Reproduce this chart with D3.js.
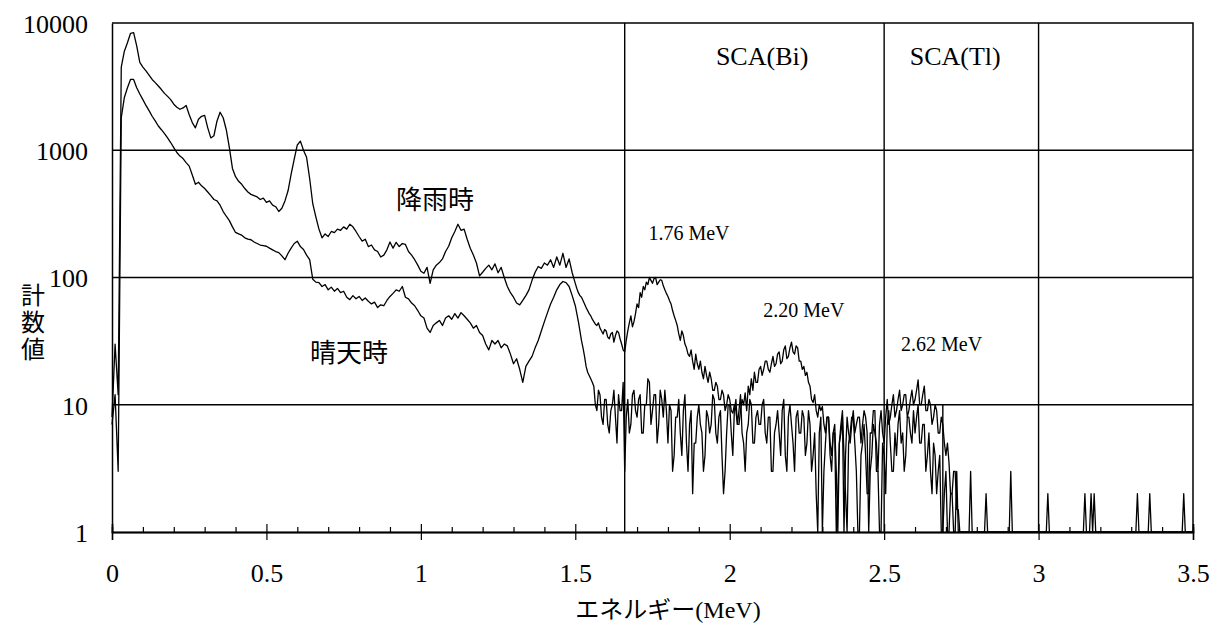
<!DOCTYPE html>
<html>
<head>
<meta charset="utf-8">
<script src="https://cdn.jsdelivr.net/npm/d3@7"></script>
<style>
  html, body { margin: 0; padding: 0; background: #fff; }
  svg { display: block; }
</style>
</head>
<body>
<svg id="chart" width="1218" height="634"></svg>
<script>
// Gamma-ray spectra. Below 1.5 MeV the counts are binned in 0.01 MeV channels,
// from 1.5 MeV upward in 0.005 MeV channels.
const lowStart = 0, lowStep = 0.01;
const highStart = 1.5, highStep = 0.005;

// 降雨時 (rain), 0 – 1.49 MeV
const rainLow = [
  8, 30, 12, 4500, 6000, 7000, 8300, 8400, 6600, 4900,
  4500, 4200, 3900, 3600, 3400, 3200, 3000, 2800, 2650, 2500,
  2300, 2180, 2100, 2150, 2250, 1900, 1650, 1500, 1750, 1850,
  1880, 1500, 1250, 1300, 1700, 1990, 1800, 1450, 1050, 720,
  620, 570, 540, 500, 470, 450, 440, 430, 410, 420,
  390, 400, 370, 360, 330, 350, 400, 480, 650, 850,
  1100, 1180, 1000, 880, 600, 380, 300, 240, 205, 220,
  210, 230, 225, 240, 235, 250, 240, 262, 250, 230,
  210, 193, 200, 175, 180, 165, 160, 145, 150, 165,
  190, 170, 189, 175, 185, 182, 160, 150, 138, 125,
  112, 108, 120, 90, 115, 125, 131, 140, 160, 176,
  205, 230, 262, 235, 240, 200, 170, 150, 130, 103,
  110, 118, 125, 115, 128, 109, 120, 100, 85, 76,
  70, 63, 61, 66, 72, 80, 95, 110, 122, 118,
  130, 125, 138, 120, 145, 125, 155, 120, 140, 109
];
// 降雨時 (rain), 1.5 – 3.5 MeV
const rainHigh = [
  90, 82, 76, 72, 70, 66, 62, 58, 55, 52, 50, 47, 45, 43, 42, 44, 40, 38, 36, 39,
  38, 34, 33, 36, 37, 31, 35, 38, 37, 33, 30, 27, 26, 32, 38, 44, 50, 41, 45, 52,
  62, 58, 76, 70, 85, 80, 92, 88, 100, 95, 90, 98, 100, 88, 92, 96, 95, 86, 80, 75,
  71, 66, 62, 55, 50, 46, 42, 36, 32, 38, 35, 30, 28, 25, 24, 27, 22, 19, 25, 21,
  19, 22, 18, 16, 20, 17, 15, 18, 16, 13, 13, 15, 14, 11, 11, 13, 12, 9, 10, 12,
  11, 9, 8.6, 10, 9, 7, 7, 9, 11, 10, 12.4, 9, 14, 12, 16, 13, 18, 15, 15, 19,
  20, 17, 19, 22, 22, 19, 18, 21, 24, 20, 21, 25, 26, 21, 22, 27, 29, 23, 24, 28,
  31, 26, 25, 29, 28, 22, 22, 19, 20, 17, 18, 15, 14, 11, 10.4, 12, 9, 8, 10, 9,
  9.7, 7, 6, 8, 8, 5, 4, 6, 7, 3, 1, 5, 6, 8, 1, 4, 8, 6, 5, 7,
  9, 6, 7, 8, 8, 5, 7, 9, 8, 6, 1, 3, 4, 7, 6, 5, 3, 7, 9, 6,
  5, 8, 11, 7, 8, 10, 12, 8, 9, 11, 13, 9, 10, 12, 12, 8, 9, 11, 13, 10,
  11, 13, 15.7, 10, 10, 12, 14, 9, 9, 11, 10, 7, 8, 10, 9, 6, 6, 8, 7, 5,
  4, 5, 3.5, 2, 2, 3, 3, 1.5, 1.5, 1, 1, 1, 1, 1, 1, 1, 1, 1, 1, 1,
  1, 1, 1, 1, 1, 1, 1, 1, 1, 1, 1, 1, 1, 1, 1, 1, 1, 1, 1, 1,
  1, 1, 1, 1, 1, 1, 1, 1, 1, 1, 1, 1, 1, 1, 1, 1, 1, 1, 1, 1,
  1, 1, 1, 1, 1, 1, 1, 1, 1, 1, 1, 1, 1, 1, 1, 1, 1, 1, 1, 1,
  1, 1, 1, 1, 1, 1, 1, 1, 1, 1, 1, 1, 1, 1, 1, 1, 1, 1, 1, 1,
  1, 1, 1, 1, 1, 1, 1, 1, 1, 1, 1, 1, 1, 1, 1, 1, 1, 1, 1, 1,
  1, 1, 1, 1, 1, 1, 1, 1, 1, 1, 1, 1, 1, 1, 1, 1, 1, 1, 1, 1,
  1, 1, 1, 1, 1, 1, 1, 1, 1, 1, 1, 1, 1, 1, 1, 1, 1, 1, 1, 1,
  1
];

// 晴天時 (clear sky), 0 – 1.49 MeV
const clearLow = [
  7, 12, 3, 1800, 2600, 3100, 3600, 3600, 3100, 2770,
  2500, 2250, 2050, 1850, 1700, 1550, 1450, 1350, 1250, 1150,
  1050, 960, 900, 860, 800, 750, 640, 540, 560, 525,
  500, 470, 440, 410, 400, 370, 330, 303, 280, 250,
  226, 220, 215, 205, 200, 198, 190, 185, 180, 178,
  176, 170, 165, 160, 157, 148, 138, 155, 170, 185,
  193, 175, 166, 150, 138, 97, 92, 91, 85, 88,
  80, 84, 78, 82, 76, 78, 70, 67, 72, 68,
  71, 66, 69, 65, 62, 64, 58, 61, 60, 66,
  71, 75, 80, 78, 85, 70, 68, 63, 60, 55,
  50, 48, 40, 37, 42, 44, 46, 42, 48, 50,
  47, 52, 48, 53, 50, 47, 44, 40, 42, 37,
  35, 30, 27, 32, 30, 32, 28, 30, 29, 25,
  21, 23, 19, 15, 20, 22, 24, 28, 32, 38,
  45, 53, 62, 70, 80, 88, 93, 91, 85, 72
];
// 晴天時 (clear sky), 1.5 – 3.5 MeV
const clearHigh = [
  60, 52, 45, 38, 32, 28, 24, 20, 18, 17, 16, 15, 14, 10, 9, 13, 12, 8, 7, 11,
  11, 7, 6, 9, 10, 13, 8, 5, 12, 9, 9, 15, 3, 8, 11, 6, 7, 12, 13, 9,
  8, 11, 12, 6, 6, 10, 10, 16, 15, 7, 9, 12, 12, 5, 7, 13, 11, 8, 13, 9,
  5, 10, 9, 3, 4, 8, 8, 11, 6, 4, 9, 12, 5, 3, 7, 9, 2, 5, 5, 8,
  10, 7, 6, 3, 4, 9, 8, 6, 7, 12, 11, 6, 5, 8, 9, 4, 2, 3, 6, 10,
  10, 6, 4, 9, 11, 7, 9, 12, 6, 5, 3, 6, 7, 11, 10, 5, 5, 8, 9, 7,
  7, 10, 11, 6, 5, 8, 8, 3, 3, 6, 7, 9, 6, 4, 9, 11, 4, 3, 8, 10,
  7, 5, 3, 8, 9, 6, 6, 9, 8, 4, 5, 9, 7, 3, 4, 6, 2, 1, 6, 8,
  1, 3, 5, 8, 8, 4, 3, 6, 6, 1, 2, 5, 7, 9, 4, 2, 1, 5, 6, 8,
  8, 5, 3, 1, 1, 4, 5, 7, 4, 2, 2, 6, 6, 9, 9, 3, 3, 1, 1, 5,
  4, 2, 7, 9, 5, 3, 3, 6, 4, 7, 9, 5, 6, 3, 4, 8, 8, 6, 5, 9,
  6, 8, 10, 5, 5, 7, 7, 3, 4, 6, 3, 2, 5, 4, 2, 3, 4, 1, 1, 2,
  3, 1, 1, 2, 2, 1, 1, 3, 1, 1, 1, 1, 1, 1, 1, 1, 3, 1, 1, 1,
  1, 1, 1, 1, 1, 1, 2, 1, 1, 1, 1, 1, 1, 1, 1, 1, 1, 1, 1, 1,
  1, 1, 3, 1, 1, 1, 1, 1, 1, 1, 1, 1, 1, 1, 1, 1, 1, 1, 1, 1,
  1, 1, 1, 1, 1, 1, 2, 1, 1, 1, 1, 1, 1, 1, 1, 1, 1, 1, 1, 1,
  1, 1, 1, 1, 1, 1, 1, 1, 1, 1, 2, 1, 1, 1, 2, 1, 2, 1, 1, 1,
  1, 1, 1, 1, 1, 1, 1, 1, 1, 1, 1, 1, 1, 1, 1, 1, 1, 1, 1, 1,
  1, 1, 1, 1, 2, 1, 1, 1, 1, 1, 1, 1, 2, 1, 1, 1, 1, 1, 1, 1,
  1, 1, 1, 1, 1, 1, 1, 1, 1, 1, 1, 1, 1, 1, 2, 1, 1, 1, 1, 1,
  1
];

// Axis ticks and labels
const xMajorTicks = [0, 0.5, 1, 1.5, 2, 2.5, 3, 3.5];
const xMinorTicks = [0.1, 0.2, 0.3, 0.4, 0.6, 0.7, 0.8, 0.9, 1.1, 1.2, 1.3, 1.4,
  1.6, 1.7, 1.8, 1.9, 2.1, 2.2, 2.3, 2.4, 2.6, 2.7, 2.8, 2.9, 3.1, 3.2, 3.3, 3.4];
const yTicks = [1, 10, 100, 1000, 10000];
const yGridValues = [10, 100, 1000];

// Single-channel-analyser windows (MeV)
const scaEdges = [1.66, 2.5, 3.0];
const scaLabels = [
  { text: "SCA(Bi)", energy: 2.105 },
  { text: "SCA(Tl)", energy: 2.73 }
];
// Edge mark of the Tl window, from 1 to 10 counts
const tlMarker = { energy: 2.69, low: 1, high: 10 };

// Peak energy annotations
const peakLabels = [
  { text: "1.76 MeV", energy: 1.868, counts: 197 },
  { text: "2.20 MeV", energy: 2.24, counts: 49 },
  { text: "2.62 MeV", energy: 2.686, counts: 26.4 }
];
// Series names written beside the curves
const seriesLabels = [
  { text: "降雨時", energy: 1.046, counts: 422 },
  { text: "晴天時", energy: 0.767, counts: 26.9 }
];

const xTitle = "エネルギー(MeV)";
const yTitle = "計数値";

// ---------------------------------------------------------------
const svg = d3.select("#chart");
const W = 1218, H = 634;
svg.append("rect").attr("width", W).attr("height", H).attr("fill", "#fff");

const plot = { left: 112, right: 1193, top: 23, bottom: 532 };
const x = d3.scaleLinear().domain([0, 3.5]).range([plot.left, plot.right]);
const y = d3.scaleLog().domain([1, 10000]).range([plot.bottom, plot.top]);

const serif = "'Liberation Serif', 'Times New Roman', serif";
const cjk = "'Liberation Serif', 'Noto Sans CJK JP', serif";

// Join the two channel ranges into one list of [energy, counts]
function spectrum(low, high) {
  return low.map((c, i) => [lowStart + i * lowStep, c])
    .concat(high.map((c, i) => [highStart + i * highStep, c]));
}
const rainSpectrum = spectrum(rainLow, rainHigh);
const clearSpectrum = spectrum(clearLow, clearHigh);

// Horizontal grid lines
svg.append("g").selectAll("line").data(yGridValues).join("line")
  .attr("x1", plot.left).attr("x2", plot.right)
  .attr("y1", d => y(d)).attr("y2", d => y(d))
  .attr("stroke", "#000").attr("stroke-width", 1.4);

// SCA window edges
svg.append("g").selectAll("line").data(scaEdges).join("line")
  .attr("x1", d => x(d)).attr("x2", d => x(d))
  .attr("y1", plot.top).attr("y2", plot.bottom)
  .attr("stroke", "#000").attr("stroke-width", 1.4);

svg.append("line")
  .attr("x1", x(tlMarker.energy)).attr("x2", x(tlMarker.energy))
  .attr("y1", y(tlMarker.low)).attr("y2", y(tlMarker.high))
  .attr("stroke", "#000").attr("stroke-width", 1.4);

// Plot frame (top and right)
svg.append("path")
  .attr("d", `M${plot.left},${plot.top}H${plot.right}V${plot.bottom}`)
  .attr("fill", "none").attr("stroke", "#000").attr("stroke-width", 1.5);

// Spectra
const line = d3.line()
  .x(d => x(d[0]))
  .y(d => y(Math.max(1, d[1])));

[rainSpectrum, clearSpectrum].forEach(series => {
  svg.append("path")
    .datum(series)
    .attr("d", line)
    .attr("fill", "none")
    .attr("stroke", "#000")
    .attr("stroke-width", 1.3)
    .attr("stroke-linejoin", "round");
});

// X axis: minor ticks inside, major ticks crossing the axis
const gx = svg.append("g").attr("transform", `translate(0,${plot.bottom})`);
gx.append("g").call(d3.axisBottom(x).tickValues(xMinorTicks).tickSize(-5).tickFormat(""));
gx.append("g").call(d3.axisBottom(x).tickValues(xMajorTicks).tickSize(-8).tickFormat(""));
const gxMain = gx.append("g").call(d3.axisBottom(x).tickValues(xMajorTicks).tickSize(8).tickFormat(d => String(d)));
gx.selectAll(".domain").attr("stroke", "#000").attr("stroke-width", 1.5);
gx.selectAll(".tick line").attr("stroke", "#000").attr("stroke-width", 1.2);
gxMain.selectAll(".tick text")
  .attr("y", 50).attr("dy", 0)
  .attr("font-family", serif).attr("font-size", 26).attr("fill", "#000");
gx.selectAll("g").attr("font-size", null).attr("font-family", null);

// Y axis
const gy = svg.append("g").attr("transform", `translate(${plot.left},0)`)
  .call(d3.axisLeft(y).tickValues(yTicks).tickSize(0).tickPadding(24).tickFormat(d3.format("d")));
gy.select(".domain").attr("stroke", "#000").attr("stroke-width", 1.5);
gy.selectAll(".tick text")
  .attr("dy", "0.36em")
  .attr("font-family", serif).attr("font-size", 26).attr("fill", "#000");
gy.attr("font-size", null).attr("font-family", null);

// Axis titles
svg.append("text")
  .attr("x", 668).attr("y", 618)
  .attr("text-anchor", "middle")
  .attr("font-family", cjk).attr("font-size", 24).attr("fill", "#000")
  .text(xTitle);

svg.append("text")
  .attr("x", 33).attr("y", 323)
  .attr("text-anchor", "middle")
  .style("writing-mode", "vertical-rl")
  .style("letter-spacing", "3px")
  .attr("font-family", "'Noto Sans CJK JP', sans-serif").attr("font-size", 24).attr("fill", "#000")
  .text(yTitle);

// SCA window names
svg.append("g").selectAll("text").data(scaLabels).join("text")
  .attr("x", d => x(d.energy)).attr("y", 65)
  .attr("text-anchor", "middle")
  .attr("font-family", serif).attr("font-size", 26).attr("fill", "#000")
  .text(d => d.text);

// Peak energies
svg.append("g").selectAll("text").data(peakLabels).join("text")
  .attr("x", d => x(d.energy)).attr("y", d => y(d.counts))
  .attr("text-anchor", "middle")
  .attr("font-family", serif).attr("font-size", 20).attr("fill", "#000")
  .text(d => d.text);

// Series names
svg.append("g").selectAll("text").data(seriesLabels).join("text")
  .attr("x", d => x(d.energy)).attr("y", d => y(d.counts))
  .attr("text-anchor", "middle").attr("dominant-baseline", "central")
  .attr("font-family", "'Noto Sans CJK JP', sans-serif").attr("font-size", 26).attr("fill", "#000")
  .text(d => d.text);
</script>
</body>
</html>
